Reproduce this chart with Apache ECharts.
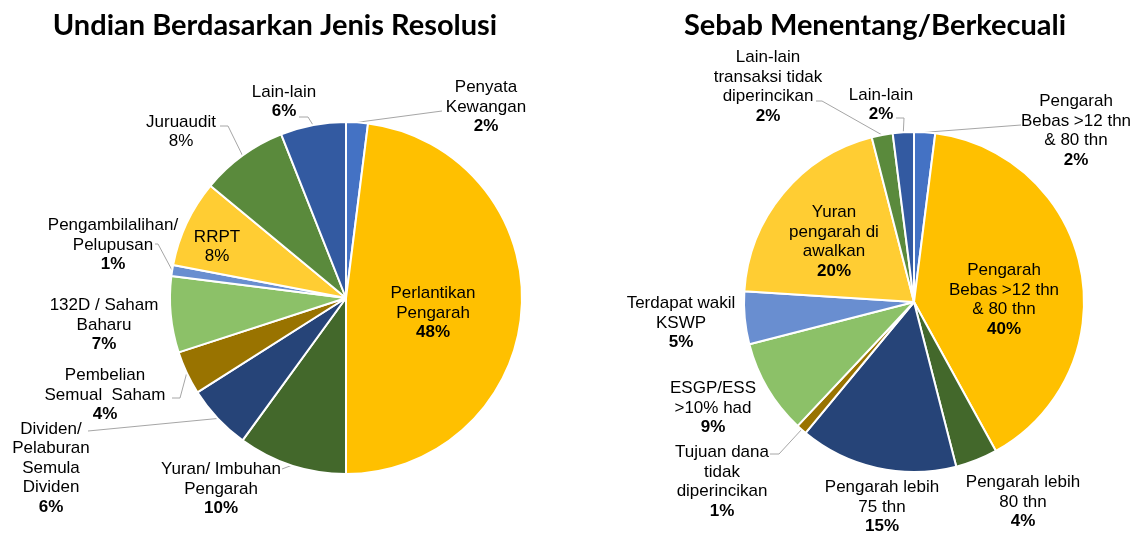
<!DOCTYPE html>
<html>
<head>
<meta charset="utf-8">
<script src="https://cdn.jsdelivr.net/npm/echarts@6/dist/echarts.min.js"></script>
<style>
  html, body { margin: 0; padding: 0; background: #fff; }
  #chart { width: 1132px; height: 533px; }
</style>
</head>
<body>
<div id="chart"></div>
<script>
// left pie: Undian Berdasarkan Jenis Resolusi
const leftNames = [
  'Penyata\nKewangan',
  'Perlantikan\nPengarah',
  'Yuran/ Imbuhan\nPengarah',
  'Dividen/\nPelaburan\nSemula\nDividen',
  'Pembelian\nSemual  Saham',
  '132D / Saham\nBaharu',
  'Pengambilalihan/\nPelupusan',
  'RRPT',
  'Juruaudit',
  'Lain-lain'
]
const leftValues = [2, 48, 10, 6, 4, 7, 1, 8, 8, 6]

// right pie: Sebab Menentang/Berkecuali
const rightNames = [
  'Pengarah\nBebas >12 thn\n& 80 thn',
  'Pengarah\nBebas >12 thn\n& 80 thn',
  'Pengarah lebih\n80 thn',
  'Pengarah lebih\n75 thn',
  'Tujuan dana\ntidak\ndiperincikan',
  'ESGP/ESS\n>10% had',
  'Terdapat wakil\nKSWP',
  'Yuran\npengarah di\nawalkan',
  'Lain-lain\ntransaksi tidak\ndiperincikan',
  'Lain-lain'
]
const rightValues = [2, 40, 4, 15, 1, 9, 5, 20, 2, 2]

const sliceColors = ['#4472C4', '#FFC000', '#43682B', '#264478', '#997300',
  '#8CC168', '#698ED0', '#FFCD33', '#5A8A3C', '#335AA1']

// labels whose percentage is not bold (left pie)
const plainPct = ['RRPT', 'Juruaudit']

// label placement (text block centre) and leader line bends
const leftLabelPos = [[486, 107], [433, 313], [221, 489], [51, 468], [105, 395],
  [104, 325], [113, 245], [217, 247], [181, 132], [284, 102]]
const leftLines = [
  [[442, 111], [442, 111]], null, [[282, 469], [282, 469]], [[88, 431], [88, 431]],
  [[180, 398], [172, 398]], null, [[158, 244], [155, 244]], null,
  [[228, 126], [220, 126]], [[308, 117], [299, 117]]
]
const rightLabelPos = [[1076, 131], [1004, 300], [1023, 502], [882, 507], [722, 482],
  [713, 408], [681, 323], [834, 242], [768, 87], [881, 105]]
const rightLines = [
  [[1021, 125], [1021, 125]], null, null, null, [[779, 454], [770, 454]],
  null, null, null, [[822, 101], [816, 101]], [[904, 118], [896, 118]]
]

function buildData(names, values, lines) {
  return names.map(function (n, i) {
    return {
      name: n,
      value: values[i],
      itemStyle: { color: sliceColors[i] },
      labelLine: { show: !!lines[i] }
    }
  })
}

function labelText(params) {
  const parts = params.name.split('\n').map(function (s) { return '{n|' + s + '}' })
  const st = (params.seriesIndex === 0 && plainPct.indexOf(params.name) >= 0) ? 'n' : 'b'
  parts.push('{' + st + '|' + Math.round(params.percent) + '%}')
  return parts.join('\n')
}

function makeLayout(posList, lineList) {
  return function (p) {
    const pos = posList[p.dataIndex]
    const out = { x: pos[0], y: pos[1], align: 'center', verticalAlign: 'middle' }
    const bend = lineList[p.dataIndex]
    if (bend && p.labelLinePoints) {
      out.labelLinePoints = [p.labelLinePoints[0], bend[0], bend[1]]
    }
    return out
  }
}

const labelFont = '"Liberation Sans", Arial, sans-serif'
const pieLabel = {
  show: true,
  position: 'outside',
  formatter: labelText,
  color: '#000',
  rich: {
    n: { fontFamily: labelFont, fontSize: 17, lineHeight: 19.5, color: '#000' },
    b: { fontFamily: labelFont, fontSize: 17, lineHeight: 19.5, fontWeight: 'bold', color: '#000' }
  }
}

function initSeries(center, radius, data, posList, lineList) {
  return {
    type: 'pie',
    center: center,
    radius: radius,
    startAngle: 90,
    clockwise: true,
    avoidLabelOverlap: false,
    animation: false,
    itemStyle: { borderColor: '#fff', borderWidth: 2 },
    label: pieLabel,
    labelLine: { show: true, lineStyle: { color: '#A6A6A6', width: 1 } },
    labelLayout: makeLayout(posList, lineList),
    emphasis: { disabled: true },
    data: data
  }
}

const chart = echarts.init(document.getElementById('chart'))
chart.setOption({
  backgroundColor: '#fff',
  graphic: [{
    type: 'text',
    x: 275,
    y: 26,
    style: {
      text: 'Undian Berdasarkan Jenis Resolusi',
      font: 'bold 29px Lato, sans-serif',
      fill: '#000',
      align: 'center',
      verticalAlign: 'middle'
    }
  }, {
    type: 'text',
    x: 875,
    y: 26,
    style: {
      text: 'Sebab Menentang/Berkecuali',
      font: 'bold 29px Lato, sans-serif',
      fill: '#000',
      align: 'center',
      verticalAlign: 'middle'
    }
  }],
  series: [
    initSeries([346, 298], 176, buildData(leftNames, leftValues, leftLines), leftLabelPos, leftLines),
    initSeries([914, 302], 170, buildData(rightNames, rightValues, rightLines), rightLabelPos, rightLines)
  ]
})
</script>
</body>
</html>
